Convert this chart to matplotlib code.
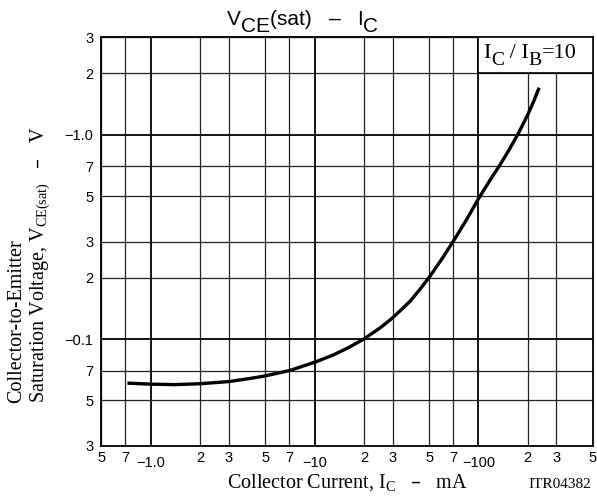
import matplotlib
matplotlib.use('Agg')
import matplotlib.pyplot as plt
from matplotlib.patches import Rectangle

# V_CE(sat) vs I_C (I_C/I_B = 10)
icArray = [0.72, 1.0, 1.4, 2.0, 3.0, 4.0, 5, 7, 10, 13, 16, 20, 25, 30, 38, 44,
           50, 60, 72, 86, 100, 118, 136, 155, 176, 200, 218, 235]
vceArray = [0.0608, 0.0601, 0.0598, 0.0604, 0.0619, 0.0640, 0.066, 0.070, 0.0769,
            0.0835, 0.0905, 0.100, 0.113, 0.127, 0.152, 0.175,
            0.200, 0.247, 0.310, 0.392, 0.485, 0.600, 0.715, 0.850, 1.02,
            1.25, 1.46, 1.70]

xMajor = [1, 10, 100]
xMajorLabels = ['\u22121.0', '\u221210', '\u2212100']
xMinor = [0.5, 0.7, 2, 3, 5, 7, 20, 30, 50, 70, 200, 300, 500]
xMinorLabels = ['5', '7', '2', '3', '5', '7', '2', '3', '5', '7', '2', '3', '5']

yMajor = [0.1, 1]
yMajorLabels = ['\u22120.1', '\u22121.0']
yMinor = [0.03, 0.05, 0.07, 0.2, 0.3, 0.5, 0.7, 2, 3]
yMinorLabels = ['3', '5', '7', '2', '3', '5', '7', '2', '3']

sans = 'Liberation Sans'
serif = 'Liberation Serif'
DASH = '\u2013'

fig = plt.figure(figsize=(5.97, 4.97), dpi=100)
ax = fig.add_axes([0.170, 0.103, 0.823, 0.822])
ax.set_xscale('log')
ax.set_yscale('log')
ax.set_xlim(0.5, 500)
ax.set_ylim(0.03, 3)


# write a run of text pieces; each piece is (text, fontsize, vertical shift in points)
def chainText(pieces, x, y, family):
    prev = fig.text(x, y, pieces[0][0], fontsize=pieces[0][1], fontfamily=family,
                    ha='left', va='baseline', zorder=6)
    for txt, size, dy in pieces[1:]:
        prev = ax.annotate(txt, xy=(1, 0), xycoords=prev, xytext=(0, dy),
                           textcoords='offset points', ha='left', va='bottom',
                           fontsize=size, fontfamily=family, annotation_clip=False, zorder=6)


# ticks and labels
ax.set_xticks(xMajor)
ax.set_xticklabels(xMajorLabels, fontfamily=sans, fontsize=10.5)
ax.set_xticks(xMinor, minor=True)
ax.set_xticklabels(xMinorLabels, minor=True, fontfamily=sans, fontsize=10.5)
ax.set_yticks(yMajor)
ax.set_yticklabels(yMajorLabels, fontfamily=sans, fontsize=10.5)
ax.set_yticks(yMinor, minor=True)
ax.set_yticklabels(yMinorLabels, minor=True, fontfamily=sans, fontsize=10.5)
ax.tick_params(axis='x', which='major', length=0, pad=7)
ax.tick_params(axis='x', which='minor', length=0, pad=4)
ax.tick_params(axis='y', which='both', length=0, pad=6)

# grid
ax.grid(which='major', color='black', linewidth=1.3)
ax.grid(which='minor', color='#222222', linewidth=0.9)
ax.set_axisbelow(True)
for s in ax.spines.values():
    s.set_linewidth(1.3)

# the curve
ax.plot(icArray, vceArray, color='black', linewidth=2.4, solid_capstyle='butt', zorder=3)

# condition box in the top right corner
ax.add_patch(Rectangle((100, 2), 400, 1, facecolor='white', edgecolor='black',
                       linewidth=1.2, zorder=4))
chainText([('I', 16, 0), ('C', 14, -4), (' / I', 16, 4), ('B', 14, -4), ('=10', 16, 4)],
          0.810, 0.883, serif)

# title
chainText([('V', 15, 0), ('CE', 15, -5), ('(sat)   ' + DASH + '   I', 15, 5), ('C', 15, -5)],
          0.380, 0.950, sans)

# axis labels
ax.set_xlabel(r'Collector Current, I$_\mathregular{C}$   ' + DASH + '   mA',
              fontfamily=serif, fontsize=14.5, labelpad=2)
fig.text(0.028, 0.189, 'Collector-to-Emitter', rotation=90, ha='center', va='bottom',
         fontfamily=serif, fontsize=14.5)
fig.text(0.068, 0.189, r'Saturation Voltage, V$_\mathregular{CE(sat)}$   ' + DASH + '   V',
         rotation=90, ha='center', va='bottom', fontfamily=serif, fontsize=14.5)
fig.text(0.937, 0.026, 'ITR04382', ha='center', va='center', fontfamily=serif, fontsize=11)

fig.savefig('out.png')
